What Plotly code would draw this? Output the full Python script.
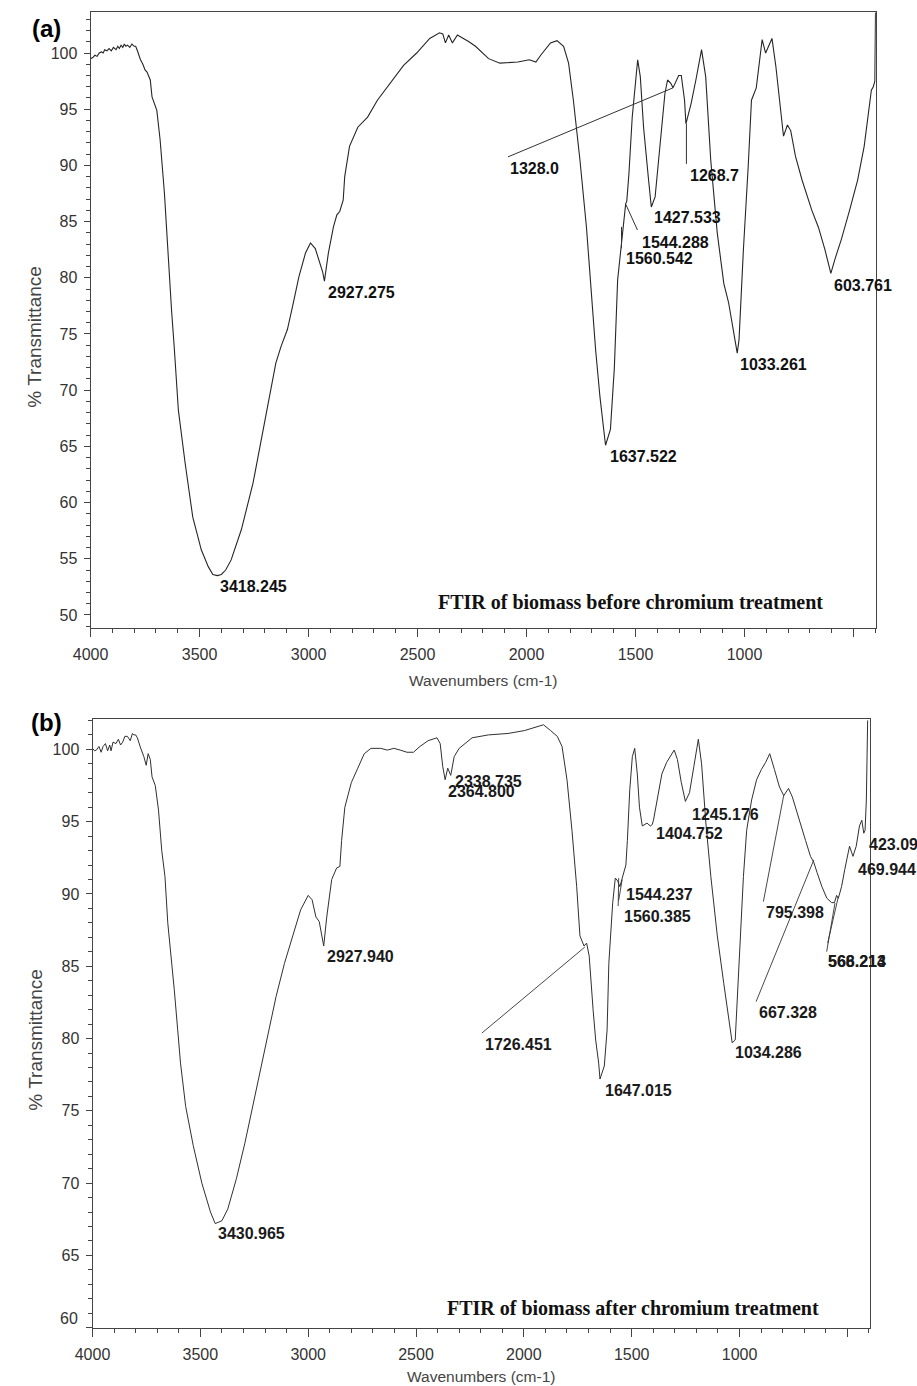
import plotly.graph_objects as go

# ---------------- data: panel (a) before chromium treatment ----------------
wn_a = [4000, 3990, 3980, 3970, 3960, 3950, 3942, 3935, 3925, 3915, 3905, 3895, 3883, 3875,
        3868, 3860, 3852, 3845, 3838, 3830, 3820, 3810, 3800, 3793, 3785, 3771, 3760, 3750,
        3741, 3733, 3726, 3718, 3708, 3696, 3681, 3661, 3650, 3640, 3628, 3616, 3597, 3566,
        3531, 3492, 3460, 3439, 3418, 3400, 3380, 3355, 3308, 3255, 3202, 3150, 3126, 3097,
        3074, 3044, 3014, 2991, 2969, 2946, 2935, 2927, 2918, 2909, 2886, 2870, 2857, 2841,
        2834, 2812, 2774, 2729, 2684, 2624, 2564, 2504, 2444, 2399, 2384, 2372, 2357, 2340,
        2317, 2264, 2234, 2174, 2122, 2040, 1987, 1957, 1935, 1890, 1860, 1830, 1807, 1785,
        1755, 1725, 1702, 1683, 1663, 1643, 1637.5, 1615, 1597, 1582, 1567, 1560, 1545, 1540,
        1530, 1515, 1500, 1490, 1478, 1463, 1440, 1427.5, 1410, 1388, 1365, 1353, 1338, 1328,
        1302, 1290, 1275, 1268.7, 1245, 1223, 1197, 1178, 1155, 1125, 1095, 1073, 1050, 1033.3,
        1025, 1005, 983, 968, 946, 930, 919, 903, 888, 874, 856, 840, 821, 803, 788, 766, 736,
        691, 661, 631, 603.8, 586, 556, 518, 481, 451, 428, 418, 409, 402, 399]
t_a = [99.5, 99.6, 99.8, 99.7, 100.0, 100.1, 100.0, 100.3, 100.2, 100.4, 100.2, 100.5, 100.3, 100.6,
       100.4, 100.7, 100.5, 100.8, 100.6, 100.7, 100.5, 100.8, 100.6, 100.6, 100.2, 99.4, 99.0, 98.5,
       98.3, 98.0, 97.6, 96.1, 95.5, 94.9, 92.3, 87.5, 84.0, 80.4, 77.0, 73.8, 68.2, 63.5,
       58.7, 55.8, 54.3, 53.6, 53.5, 53.6, 54.0, 54.9, 57.6, 61.7, 67.1, 72.4, 73.9, 75.4,
       77.4, 80.1, 82.2, 83.1, 82.6, 81.3, 80.5, 79.7, 81.0, 82.2, 84.5, 85.6, 85.9, 86.9,
       89.0, 91.7, 93.4, 94.3, 95.8, 97.4, 98.9, 100.0, 101.3, 101.8, 101.7, 100.9, 101.6, 100.9,
       101.6, 101.0, 100.6, 99.5, 99.1, 99.2, 99.4, 99.2, 99.8, 100.9, 101.1, 100.6, 99.1, 95.8,
       90.5, 84.5, 78.6, 73.6, 69.4, 65.6, 65.1, 66.5, 72.0, 79.8, 82.8, 84.0, 86.6, 86.8,
       89.3, 94.3, 97.6, 99.4, 97.9, 93.4, 88.7, 86.3, 87.2, 91.7, 96.4, 97.6, 97.3, 96.9,
       98.0, 98.0, 95.8, 93.7, 95.5, 97.6, 100.3, 97.9, 90.5, 84.0, 79.5, 77.8, 75.1, 73.3,
       74.5, 82.5, 89.9, 95.8, 96.9, 99.7, 101.2, 100.0, 100.7, 101.3, 98.8, 95.8, 92.6, 93.6, 93.1, 90.8, 88.7,
       86.0, 84.5, 82.5, 80.4, 81.6, 83.4, 86.0, 88.7, 91.7, 94.9, 96.7, 97.0, 97.5, 103.6]

# ---------------- data: panel (b) after chromium treatment ----------------
wn_b = [4000, 3990, 3982, 3970, 3960, 3951, 3940, 3930, 3920, 3914, 3905, 3891, 3880, 3870,
        3860, 3850, 3838, 3825, 3815, 3808, 3800, 3792, 3777, 3762, 3751, 3742, 3732, 3724,
        3709, 3694, 3679, 3664, 3651, 3641, 3621, 3605, 3592, 3568, 3533, 3493, 3453, 3431,
        3410, 3400, 3373, 3333, 3293, 3253, 3213, 3186, 3149, 3110, 3073, 3035, 3000, 2982,
        2964, 2949, 2928, 2914, 2891, 2868, 2853, 2845, 2830, 2800, 2770, 2740, 2709, 2664,
        2633, 2603, 2573, 2542, 2512, 2482, 2444, 2403, 2388, 2376, 2365, 2353, 2339, 2323,
        2300, 2255, 2240, 2164, 2073, 1997, 1936, 1909, 1876, 1845, 1823, 1800, 1777, 1755,
        1740, 1726, 1721, 1709, 1697, 1679, 1667, 1653, 1647, 1627, 1614, 1606, 1588, 1576,
        1565, 1555, 1542, 1527, 1520, 1509, 1497, 1486, 1474, 1464, 1451, 1429, 1414, 1404.8,
        1399, 1383, 1360, 1338, 1323, 1303, 1288, 1270, 1251, 1232, 1212, 1191, 1176, 1156,
        1133, 1103, 1073, 1050, 1034, 1020, 1000, 982, 967, 944, 921, 899, 879, 860, 838, 815,
        795, 773, 755, 724, 694, 671, 656, 641, 618, 595, 573, 560, 550, 542, 527, 512, 490,
        474, 459, 444, 433, 424, 418, 412, 409, 406]
t_b = [100.07, 99.9, 99.95, 100.2, 99.8, 100.2, 100.4, 99.9, 100.3, 99.9, 100.5, 100.4, 100.7, 100.3,
       100.5, 100.9, 100.9, 100.6, 101.1, 101.0, 101.0, 100.8, 100.1, 99.5, 98.9, 99.7, 99.3, 98.1,
       97.5, 95.8, 93.0, 91.2, 88.0, 86.6, 83.4, 80.6, 78.3, 75.3, 72.6, 70.0, 68.0, 67.2,
       67.3, 67.4, 68.2, 70.3, 72.8, 75.6, 78.3, 80.2, 82.9, 85.2, 87.1, 88.9, 89.9, 89.6,
       88.4, 88.1, 86.4, 88.4, 91.0, 91.8, 91.9, 93.7, 96.0, 97.7, 98.7, 99.7, 100.07, 100.07,
       99.95, 100.07, 99.95, 99.8, 99.8, 100.2, 100.6, 100.8, 100.4, 98.8, 97.9, 98.7, 98.2, 99.5,
       100.07, 100.6, 100.8, 101.0, 101.1, 101.3, 101.6, 101.7, 101.3, 100.9, 100.2, 97.9, 94.4, 90.5,
       87.1, 86.5, 86.4, 86.6, 85.7, 82.0, 79.9, 78.3, 77.2, 78.1, 80.6, 85.2, 89.4, 91.1,
       90.9, 90.5, 91.2, 92.0, 93.7, 97.2, 99.5, 100.07, 98.3, 96.0, 94.7, 94.9, 94.7, 94.8,
       95.1, 96.5, 98.3, 99.1, 99.5, 99.95, 99.3, 97.7, 96.4, 97.0, 98.8, 100.7, 99.0, 94.9,
       91.2, 87.1, 83.8, 81.5, 79.7, 79.9, 85.7, 91.2, 94.4, 96.5, 97.9, 98.6, 99.1, 99.7, 98.6, 97.4,
       96.8, 97.3, 96.7, 95.1, 93.7, 92.6, 92.2, 91.5, 90.5, 89.7, 89.4, 89.4, 89.9, 89.7, 90.5, 91.7, 93.3,
       92.6, 93.3, 94.7, 95.1, 94.2, 94.4, 96.5, 101.8, 102.0]

# ---------------- peak labels: (text, wavenumber, transmittance, dx px, dy px) ----------------
peaks_a = [
    ("3418.245", 3418, 53.5, 1, -11),
    ("2927.275", 2927, 79.7, 2, -11.5),
    ("1637.522", 1637.5, 65.1, 2, -11.4),
    ("1033.261", 1033.3, 73.3, 1, -11),
    ("603.761", 603.8, 80.4, 1, -12),
    ("1427.533", 1427.5, 86.3, 1, -11),
    ("1544.288", 1544.288, 86.7, 14, -40),
    ("1560.542", 1560.542, 84.0, 2, -26),
    ("1328.0", 1328, 96.9, -165, -80.5),
    ("1268.7", 1268.7, 93.7, 2, -52),
]
leaders_a = [  # (wn, T, x0, y0, x1, y1) pixel offsets from the peak
    (1328, 96.9, 0, 0, -165, -69),
    (1268.7, 93.7, 0.5, 0, 0.5, -40),
    (1544.288, 86.7, 0, -2, 11.6, -27.5),
    (1560.542, 84.0, -0.8, 6, -0.8, -15.5),
]
peaks_b = [
    ("3430.965", 3431, 67.2, 1, -10),
    ("2927.940", 2928, 86.4, 1, -10.5),
    ("2364.800", 2364.8, 97.9, 1, -12),
    ("2338.735", 2338.7, 98.2, 2, -6),
    ("1726.451", 1726.451, 86.5, -100, -100),
    ("1647.015", 1647, 77.2, 3, -11.5),
    ("1544.237", 1544.237, 91.0, 2, -14.6),
    ("1560.385", 1560.385, 91.1, 3, -38.5),
    ("1404.752", 1404.8, 94.8, 2, -9),
    ("1245.176", 1245.176, 96.4, 3, -12.6),
    ("1034.286", 1034, 79.7, 1, -10),
    ("795.398", 795.398, 96.8, -19.3, -117),
    ("667.328", 667.328, 92.2, -54.2, -150.5),
    ("568.213", 568.2, 89.4, -7, -59),
    ("566.214", 568.2, 89.4, -7, -59),
    ("469.944", 469.944, 92.6, 2.4, -13.5),
    ("423.09", 423.09, 94.2, 3, -11.7),
]
leaders_b = [
    (1726.451, 86.5, 2, -2.5, -101, -88.5),
    (1560.385, 91.1, 0, 0, -0.5, -28),
    (1544.237, 91.0, 0, 0, -3.5, -21),
    (795.398, 96.8, 0, 0, -20.3, -106),
    (667.328, 92.2, 2.5, 2.2, -55.2, -139.5),
    (568.2, 89.4, 2.3, -0.5, -6, -49),
    (568.2, 89.4, 5.7, 6.1, -5, -40.5),
]

x_ticks = [4000, 3500, 3000, 2500, 2000, 1500, 1000, 500]
x_ticktext = ["4000", "3500", "3000", "2500", "2000", "1500", "1000", ""]
y_ticks_a = [50, 55, 60, 65, 70, 75, 80, 85, 90, 95, 100]
y_ticks_b = [60, 65, 70, 75, 80, 85, 90, 95, 100]

W, H = 917, 1386
SANS = "Liberation Sans, Arial, sans-serif"
SERIF = "Liberation Serif, Times New Roman, serif"
AX = "#444444"

fig = go.Figure()
fig.add_trace(go.Scatter(x=wn_a, y=t_a, mode="lines", line=dict(color="#262626", width=1.1),
                         xaxis="x", yaxis="y", showlegend=False, hoverinfo="skip"))
fig.add_trace(go.Scatter(x=wn_b, y=t_b, mode="lines", line=dict(color="#303030", width=1.0),
                         xaxis="x2", yaxis="y2", showlegend=False, hoverinfo="skip"))


def xaxis_style(rng, dom, anchor):
    return dict(range=rng, domain=dom, anchor=anchor, tickmode="array", tickvals=x_ticks,
                ticktext=x_ticktext, ticks="outside", ticklen=8, tickwidth=1, tickcolor=AX,
                minor=dict(tickmode="linear", tick0=0, dtick=100, ticks="outside", ticklen=4,
                           tickwidth=1, tickcolor=AX),
                showline=True, linecolor=AX, linewidth=1, mirror=True, showgrid=False,
                zeroline=False, tickfont=dict(family=SANS, size=16, color="#333333"),
                ticklabelstandoff=4)


def yaxis_style(rng, dom, anchor, vals, texts):
    return dict(range=rng, domain=dom, anchor=anchor, tickmode="array", tickvals=vals,
                ticktext=texts, ticks="outside", ticklen=6, tickwidth=1, tickcolor=AX,
                minor=dict(tickmode="linear", tick0=0, dtick=1, ticks="outside", ticklen=3.5,
                           tickwidth=1, tickcolor=AX),
                showline=True, linecolor=AX, linewidth=1, mirror=True, showgrid=False,
                zeroline=False, tickfont=dict(family=SANS, size=16, color="#333333"),
                ticklabelstandoff=3)


fig.update_layout(
    width=W, height=H, margin=dict(l=0, r=0, t=0, b=0),
    paper_bgcolor="white", plot_bgcolor="white",
    xaxis=xaxis_style([4000, 397.5], [74 / W, 875 / W], "y"),
    yaxis=yaxis_style([48.84, 103.65], [1 - 628 / H, 1 - 12 / H], "x",
                      y_ticks_a, [str(v) for v in y_ticks_a]),
    xaxis2=xaxis_style([4000, 394], [76 / W, 869.3 / W], "y2"),
    yaxis2=yaxis_style([59.98, 102.1], [1 - 1328 / H, 1 - 719 / H], "x2",
                       y_ticks_b, ["" if v == 60 else str(v) for v in y_ticks_b]),
)

ann = []
for txt, wn, t, dx, dy in peaks_a:
    ann.append(dict(text=txt, x=wn, y=t, xref="x", yref="y", xanchor="left", yanchor="middle",
                    xshift=dx, yshift=dy, showarrow=False,
                    font=dict(family=SANS, size=16, color="#111111", weight="bold")))
for txt, wn, t, dx, dy in peaks_b:
    ann.append(dict(text=txt, x=wn, y=t, xref="x2", yref="y2", xanchor="left", yanchor="middle",
                    xshift=dx, yshift=dy, showarrow=False,
                    font=dict(family=SANS, size=16, color="#1a1a1a", weight="bold")))


def paper_text(text, px, py, size, family=SANS, color="#444444", xanchor="center", angle=0):
    return dict(text=text, x=px / W, y=1 - py / H, xref="paper", yref="paper",
                xanchor=xanchor, yanchor="middle", textangle=angle, showarrow=False,
                font=dict(family=family, size=size, color=color))


ann += [
    paper_text("<b>(a)</b>", 29, 28, 24, color="black"),
    paper_text("<b>(b)</b>", 29, 722, 24, color="black"),
    paper_text("% Transmittance", 17, 337, 19, angle=-90),
    paper_text("% Transmittance", 17, 1040, 19, angle=-90),
    paper_text("Wavenumbers (cm-1)", 474.5, 680, 15.5),
    paper_text("Wavenumbers (cm-1)", 472.5, 1376, 15.5),
    paper_text("<b>FTIR of biomass before chromium treatment</b>", 823, 601.7, 20,
               family=SERIF, color="#111111", xanchor="right"),
    paper_text("<b>FTIR of biomass after chromium treatment</b>", 819, 1307.5, 20,
               family=SERIF, color="#111111", xanchor="right"),
    paper_text("60", 63.5, 1318, 16, color="#333333", xanchor="right"),
]
fig.update_layout(annotations=ann)

shapes = []
for wn, t, x0, y0, x1, y1 in leaders_a:
    shapes.append(dict(type="line", xref="x", yref="y", xsizemode="pixel", ysizemode="pixel",
                       xanchor=wn, yanchor=t, x0=x0, y0=y0, x1=x1, y1=y1,
                       line=dict(color="#333333", width=1)))
for wn, t, x0, y0, x1, y1 in leaders_b:
    shapes.append(dict(type="line", xref="x2", yref="y2", xsizemode="pixel", ysizemode="pixel",
                       xanchor=wn, yanchor=t, x0=x0, y0=y0, x1=x1, y1=y1,
                       line=dict(color="#333333", width=0.9)))
fig.update_layout(shapes=shapes)

fig.write_html("out.html", config={"displayModeBar": False})
